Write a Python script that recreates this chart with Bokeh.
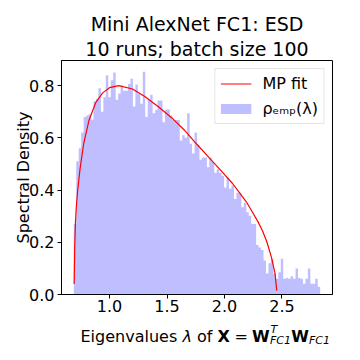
import numpy as np
from bokeh.plotting import figure
from bokeh.layouts import column
from bokeh.models import (Range1d, FixedTicker, PrintfTickFormatter, Title,
                          Legend, LegendItem)
from bokeh.core.properties import value
from bokeh.embed import file_html
from bokeh.resources import INLINE

# ---------------- data ----------------
bin_lo = 0.689
bin_hi = 2.833
density = [
    0.27, 0.51, 0.56, 0.62, 0.68, 0.685, 0.69, 0.67, 0.74, 0.75,
    0.79, 0.70, 0.755, 0.84, 0.755, 0.82, 0.85, 0.746, 0.77, 0.80,
    0.78, 0.78, 0.806, 0.826, 0.72, 0.804, 0.768, 0.73, 0.853, 0.68,
    0.745, 0.765, 0.694, 0.707, 0.743, 0.743, 0.66, 0.708, 0.708, 0.685,
    0.668, 0.668, 0.668, 0.59, 0.61, 0.60, 0.694, 0.577, 0.54, 0.62,
    0.573, 0.516, 0.525, 0.525, 0.487, 0.525, 0.506, 0.466, 0.48, 0.466,
    0.455, 0.41, 0.449, 0.405, 0.417, 0.366, 0.39, 0.39, 0.334, 0.35,
    0.315, 0.302, 0.27, 0.27, 0.19, 0.18, 0.17, 0.13, 0.08, 0.12,
    0.137, 0.079, 0.06, 0.085, 0.137, 0.06, 0.063, 0.06, 0.07, 0.06,
    0.10, 0.063, 0.06, 0.041, 0.06, 0.10, 0.041, 0.041, 0.06, 0.03,
]
mp_x = [0.692, 0.697, 0.703, 0.710, 0.723, 0.743, 0.776, 0.82, 0.88, 0.94,
        1.00, 1.08, 1.20, 1.31, 1.43, 1.54, 1.65, 1.75, 1.86, 1.97,
        2.07, 2.13, 2.19, 2.24, 2.29, 2.33, 2.37, 2.41, 2.44, 2.455]
mp_y = [0.04, 0.18, 0.27, 0.33, 0.40, 0.48, 0.58, 0.665, 0.735, 0.772,
        0.792, 0.80, 0.787, 0.757, 0.717, 0.677, 0.63, 0.58, 0.527, 0.474,
        0.425, 0.39, 0.355, 0.318, 0.28, 0.245, 0.20, 0.14, 0.08, 0.015]
x_ticks = [1.0, 1.5, 2.0, 2.5]
y_ticks = [0.0, 0.2, 0.4, 0.6, 0.8]
title_lines = ["Mini AlexNet FC1: ESD", "10 runs; batch size 100"]
legend_labels = ["MP fit", "\u03c1\u2091\u2098\u209a(\u03bb)"]
y_label = "Spectral Density"
# x label: (text, font size, style, position kind)
x_label_parts = [
    ("Eigenvalues", "16px", "normal", "base"),
    ("\u03bb", "16px", "italic", "base"),
    ("of", "16px", "normal", "base"),
    ("X", "16px", "bold", "base"),
    ("=", "16px", "normal", "base"),
    ("W", "16px", "bold", "base"),
    ("T", "11px", "italic", "sup"),
    ("FC1", "11px", "italic", "sub"),
    ("W", "16px", "bold", "base"),
    ("FC1", "11px", "italic", "sub"),
]
# left x (page pixels) of each part -- layout only
x_label_left = [80.0, 182.0, 196.5, 217.0, 234.0, 251.6, 270.0, 269.4, 290.8, 308.4]

# ---------------- main figure ----------------
X0, X1 = 0.582, 2.94
Y0, Y1 = 0.0, 0.896
FONT = "DejaVu Sans"
MAIN_H = 318

p = figure(width=344, height=MAIN_H,
           min_border_left=61, min_border_right=12,
           min_border_top=60, min_border_bottom=24,
           x_range=Range1d(X0, X1), y_range=Range1d(Y0, Y1),
           output_backend="svg", toolbar_location=None)

edges = np.linspace(bin_lo, bin_hi, len(density) + 1)
p.varea_step(x=list(edges), y1=[0.0] * len(edges), y2=density + [density[-1]],
             step_mode="after", fill_color="#bfbfff", fill_alpha=1.0)

r_mp = p.line(mp_x, mp_y, line_color="red", line_width=1.2)
# legend swatch for the histogram (kept outside the visible range)
r_swatch = p.line(x=[-1.0, -0.9], y=[-1.0, -1.0], line_color="#bfbfff",
                  line_width=10)

legend = Legend(items=[LegendItem(label=legend_labels[0], renderers=[r_mp]),
                       LegendItem(label=legend_labels[1], renderers=[r_swatch])],
                location="top_right", margin=8, padding=5, spacing=6,
                glyph_width=31, glyph_height=19, label_height=19,
                label_width=20, label_standoff=11,
                label_text_font=FONT, label_text_font_size="16px",
                label_text_color="black",
                border_line_color="#cccccc", border_line_width=1,
                background_fill_color="white", background_fill_alpha=0.8)
p.add_layout(legend)

p.grid.visible = False
p.outline_line_color = "black"
p.outline_line_width = 1
p.background_fill_color = "white"
p.border_fill_color = "white"

p.xaxis.ticker = FixedTicker(ticks=x_ticks)
p.yaxis.ticker = FixedTicker(ticks=y_ticks)
for ax in (p.xaxis, p.yaxis):
    ax.formatter = PrintfTickFormatter(format="%.1f")
    ax.major_label_text_font = FONT
    ax.major_label_text_font_size = "16px"
    ax.major_label_text_color = "black"
    ax.axis_line_color = "black"
    ax.major_tick_line_color = "black"
    ax.major_tick_out = 4
    ax.major_tick_in = 0
    ax.minor_tick_line_color = None
p.xaxis.major_label_standoff = 1
p.yaxis.major_label_standoff = 3
p.yaxis.axis_label = y_label
p.yaxis.axis_label_text_font = FONT
p.yaxis.axis_label_text_font_size = "16px"
p.yaxis.axis_label_text_font_style = "normal"
p.yaxis.axis_label_text_color = "black"
p.yaxis.axis_label_standoff = -7

# two-line title: first added sits nearest to the frame
p.add_layout(Title(text=title_lines[1], align="center", standoff=2,
                   text_font=FONT, text_font_size="19px",
                   text_font_style="normal", text_color="black"), "above")
p.add_layout(Title(text=title_lines[0], align="center", standoff=0,
                   text_font=FONT, text_font_size="19px",
                   text_font_style="normal", text_color="black"), "above")

# ---------------- strip below for the composed x-axis label ----------------
# measured: this strip's frame spans page x 61..332, so the range is in page px
STRIP_H = 34
strip = figure(width=344, height=STRIP_H, x_range=Range1d(61, 332),
               y_range=Range1d(0, STRIP_H),
               min_border_left=0, min_border_right=0,
               min_border_top=0, min_border_bottom=0,
               x_axis_type=None, y_axis_type=None,
               output_backend="svg", toolbar_location=None)
strip.grid.visible = False
strip.outline_line_color = None
strip.background_fill_color = "white"
strip.border_fill_color = "white"

base_y = {"base": 16.0, "sup": 23.5, "sub": 12.0}
for (txt, fs, st, kind), lx in zip(x_label_parts, x_label_left):
    strip.text(x=[lx], y=[base_y[kind]], text=[txt],
               text_font=value(FONT), text_font_size=value(fs),
               text_font_style=st, text_color="black",
               text_align="left", text_baseline="alphabetic")

layout = column(p, strip, spacing=0)
open("out.html", "w").write(file_html(layout, INLINE))
